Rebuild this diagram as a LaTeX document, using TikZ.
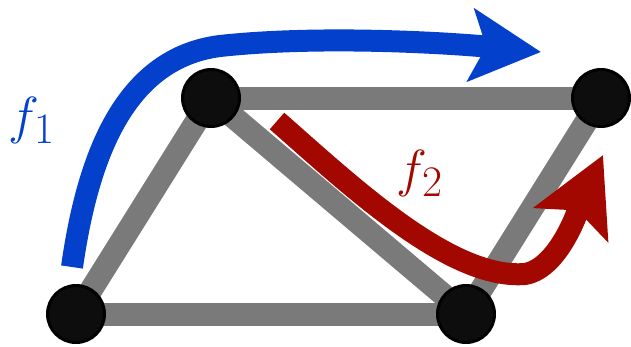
\documentclass[tikz,border=0pt]{standalone}
\usepackage{graphicx}
\usetikzlibrary{arrows.meta,backgrounds}
\definecolor{flowblue}{RGB}{3,64,204}
\definecolor{flowred}{RGB}{163,8,0}
\definecolor{edgegray}{RGB}{122,122,122}
\tikzset{
  vertex/.style={circle, draw=black, line width=3pt, fill=black!95, minimum size=57pt, inner sep=0pt},
  edge/.style={edgegray, line width=23pt},
  flow/.style={line width=22pt},
  flowlabel/.style={font=\Huge, inner sep=0pt},
}
\newcommand{\biglabel}[1]{\scalebox{2.1}{$#1$}}
\begin{document}
\begin{tikzpicture}[x=1pt,y=-1pt]
\useasboundingbox (0,0) rectangle (631,346);
% vertices
\node[vertex] (a) at (76,314) {};
\node[vertex] (b) at (211,98) {};
\node[vertex] (c) at (601,98) {};
\node[vertex] (d) at (466,314) {};
% edges behind the vertices
\begin{scope}[on background layer]
\draw[edge] (a.center) -- (b.center);
\draw[edge] (a.center) -- (d.center);
\draw[edge] (b.center) -- (c.center);
\draw[edge] (b.center) -- (d.center);
\draw[edge] (d.center) -- (c.center);
\end{scope}
% flows
\coordinate (s1) at (72,267);
\coordinate (t1) at (541,52);
\draw[flow, flowblue, -{Stealth[length=70pt,width=72pt,inset=15pt]}]
  (s1) .. controls (88,155) and (125,58) .. (220,46) .. controls (320,35) and (450,43) .. (t1);
\coordinate (s2) at (277,121);
\coordinate (t2) at (603,155);
\draw[flow, flowred, -{Stealth[length=76pt,width=80pt,inset=15pt]}]
  (s2) .. controls (350,185) and (450,280) .. (525,274) .. controls (560,268) and (580,205) .. (t2);
\node[flowlabel, text=flowblue] (l1) at (32,120) {\biglabel{f_1}};
\node[flowlabel, text=flowred] (l2) at (420,173) {\biglabel{f_2}};
\end{tikzpicture}
\end{document}
